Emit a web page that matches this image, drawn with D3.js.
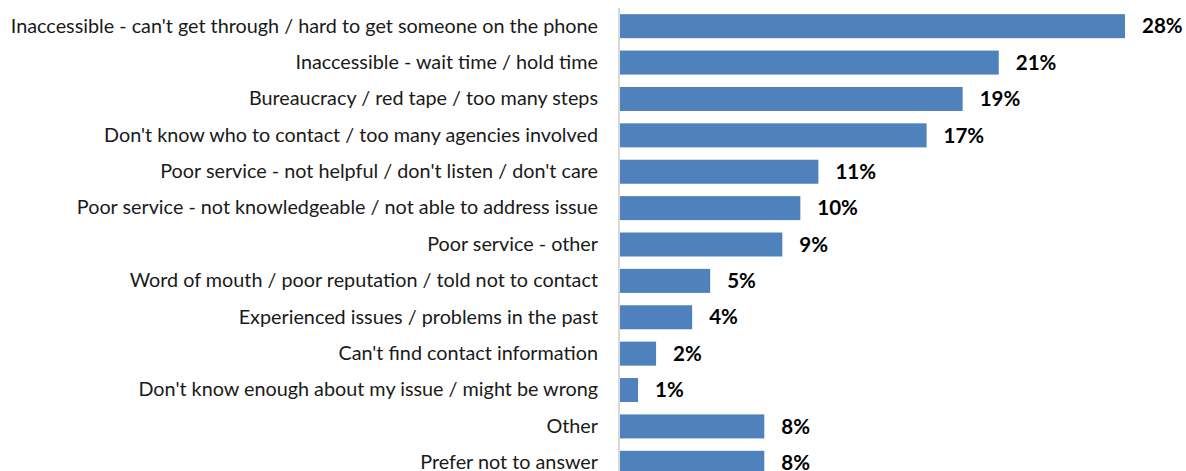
<!DOCTYPE html>
<html>
<head>
<meta charset="utf-8">
<script src="https://cdn.jsdelivr.net/npm/d3@7"></script>
<style>
  html, body { margin: 0; padding: 0; background: #fff; }
  svg { display: block; }
</style>
</head>
<body>
<svg id="chart" width="1186" height="471"></svg>
<script>
// Reasons given for not contacting, share of respondents (%)
const categories = [
  "Inaccessible - can't get through / hard to get someone on the phone",
  "Inaccessible - wait time / hold time",
  "Bureaucracy / red tape / too many steps",
  "Don't know who to contact / too many agencies involved",
  "Poor service - not helpful / don't listen / don't care",
  "Poor service - not knowledgeable / not able to address issue",
  "Poor service - other",
  "Word of mouth / poor reputation / told not to contact",
  "Experienced issues / problems in the past",
  "Can't find contact information",
  "Don't know enough about my issue / might be wrong",
  "Other",
  "Prefer not to answer"
];
const values = [28, 21, 19, 17, 11, 10, 9, 5, 4, 2, 1, 8, 8];

const svg = d3.select("#chart");
const fontFamily = "Lato, 'Open Sans', sans-serif";

const x = d3.scaleLinear().domain([0, 28]).range([620, 1125]);
const y = d3.scaleBand().domain(categories).range([8, 481]).paddingInner(0.34).paddingOuter(0.17);

// bars
svg.append("g").selectAll("rect")
  .data(categories)
  .join("rect")
  .attr("x", x(0))
  .attr("y", d => y(d))
  .attr("width", (d, i) => x(values[i]) - x(0))
  .attr("height", y.bandwidth())
  .attr("fill", "#4f81bd");

// vertical category axis
const axis = d3.axisLeft(y).tickSize(0).tickPadding(21);
const gAxis = svg.append("g")
  .attr("transform", `translate(${x(0) - 1},0)`)
  .call(axis);
gAxis.select(".domain").attr("stroke", "#d9d9d9").attr("stroke-width", 2)
  .attr("d", `M0,8V471`);
gAxis.selectAll("text")
  .attr("font-family", fontFamily)
  .attr("font-size", 19.8)
  .attr("fill", "#1a1a1a");

// value labels
svg.append("g").selectAll("text")
  .data(categories)
  .join("text")
  .attr("x", (d, i) => x(values[i]) + 17)
  .attr("y", d => y(d) + y.bandwidth() / 2)
  .attr("dy", "0.35em")
  .attr("font-family", fontFamily)
  .attr("font-weight", "bold")
  .attr("font-size", 20.5)
  .attr("fill", "#000")
  .text((d, i) => values[i] + "%");
</script>
</body>
</html>
